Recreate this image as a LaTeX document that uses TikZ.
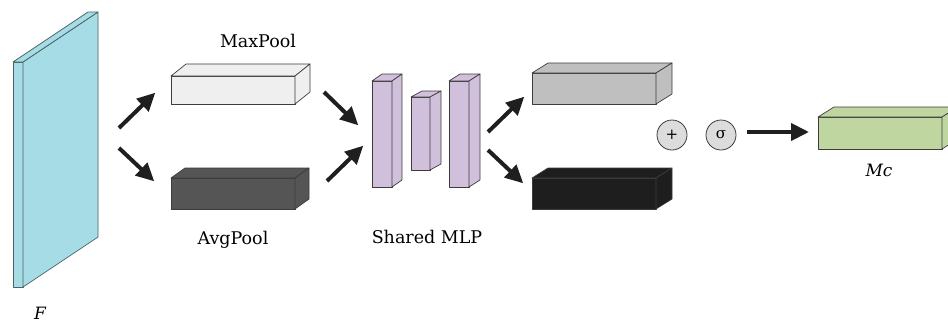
\documentclass[tikz,border=0pt]{standalone}
\usepackage{fontspec}
\setmainfont{DejaVu Serif}
\usetikzlibrary{arrows.meta}

% cuboid: front face from (#1,#2) to (#3,#4), depth offset (#5,#6), fill #7
\newcommand\cubeblock[7]{%
  \filldraw[boxline,fill=#7] (#1,#2) rectangle (#3,#4);
  \filldraw[boxline,fill=#7] (#1,#2) -- ++(#5,#6) -- (#3+#5,#2+#6) -- (#3,#2) -- cycle;
  \filldraw[boxline,fill=#7] (#3,#2) -- ++(#5,#6) -- (#3+#5,#4+#6) -- (#3,#4) -- cycle;
}

\definecolor{slab}{RGB}{166,220,230}
\definecolor{maxc}{RGB}{239,239,239}
\definecolor{avgc}{RGB}{85,85,85}
\definecolor{mlpc}{RGB}{208,192,220}
\definecolor{grayc}{RGB}{191,191,191}
\definecolor{darkc}{RGB}{30,30,30}
\definecolor{opc}{RGB}{220,220,220}
\definecolor{outc}{RGB}{192,214,160}
\definecolor{edgec}{RGB}{60,60,60}

\tikzset{
  boxline/.style={draw=edgec,line width=0.7pt,line join=round},
  flow/.style={line width=4pt,draw=black!88,-{Triangle[length=18pt,width=17pt]},shorten >=1pt},
  lbl/.style={font=\fontsize{17.5}{17.5}\selectfont,inner sep=0pt},
  opnode/.style={circle,draw=edgec,line width=0.8pt,fill=opc,minimum size=30pt,inner sep=0pt,font=\fontsize{15}{15}\selectfont}
}

\begin{document}
\begin{tikzpicture}[x=1pt,y=-1pt]
\useasboundingbox (0,0) rectangle (948,322);
\clip (0,0) rectangle (948,322);

% input feature map F
\filldraw[boxline,draw=slab!45!black,fill=slab] (13,62) rectangle (23,287);
\filldraw[boxline,draw=slab!45!black,fill=slab] (23,62) -- (98,12) -- (98,237) -- (23,287) -- cycle;
\filldraw[boxline,draw=slab!45!black,fill=slab] (13,62) -- (88,12) -- (98,12) -- (23,62) -- cycle;
\node[lbl,font=\fontsize{17}{17}\selectfont\itshape] (F) at (40,313) {F};

% pooled descriptors
\cubeblock{171}{76}{295}{104}{15}{-12}{maxc}
\cubeblock{171}{178}{295}{209}{14}{-10}{avgc}
\node[lbl] (maxlbl) at (258,41) {MaxPool};
\node[lbl] (avglbl) at (233,240) {AvgPool};

% shared MLP
\cubeblock{372}{81}{392}{187}{10}{-7}{mlpc}
\cubeblock{411}{97}{430}{170}{11}{-6}{mlpc}
\cubeblock{449}{81}{469}{187}{11}{-7}{mlpc}
\node[lbl] (mlplbl) at (427,237) {Shared MLP};

% MLP outputs
\cubeblock{532}{73}{656}{104}{16}{-10}{grayc}
\cubeblock{532}{178}{656}{209}{16}{-10}{darkc}

% sum and sigmoid
\node[opnode] (plus) at (672,135) {+};
\node[opnode] (sig) at (721,135) {σ};

% channel attention map
\cubeblock{818}{117}{942}{149}{16}{-10}{outc}
\node[lbl,font=\fontsize{17}{17}\selectfont\itshape] (mc) at (879,170) {Mc};

% arrow end points
\coordinate (fa1) at (119,128); \coordinate (fb1) at (156,92);
\coordinate (fa2) at (119,148); \coordinate (fb2) at (155,182);
\coordinate (ma) at (324,92);  \coordinate (mb) at (359,126);
\coordinate (aa) at (327,181); \coordinate (ab) at (364,145);
\coordinate (oa1) at (488,132); \coordinate (ob1) at (525,96);
\coordinate (oa2) at (488,150); \coordinate (ob2) at (524,184);
\coordinate (sa) at (747,132); \coordinate (sb) at (810,132);

\draw[flow] (fa1) -- (fb1);
\draw[flow] (fa2) -- (fb2);
\draw[flow] (ma) -- (mb);
\draw[flow] (aa) -- (ab);
\draw[flow] (oa1) -- (ob1);
\draw[flow] (oa2) -- (ob2);
\draw[flow] (sa) -- (sb);
\end{tikzpicture}
\end{document}
